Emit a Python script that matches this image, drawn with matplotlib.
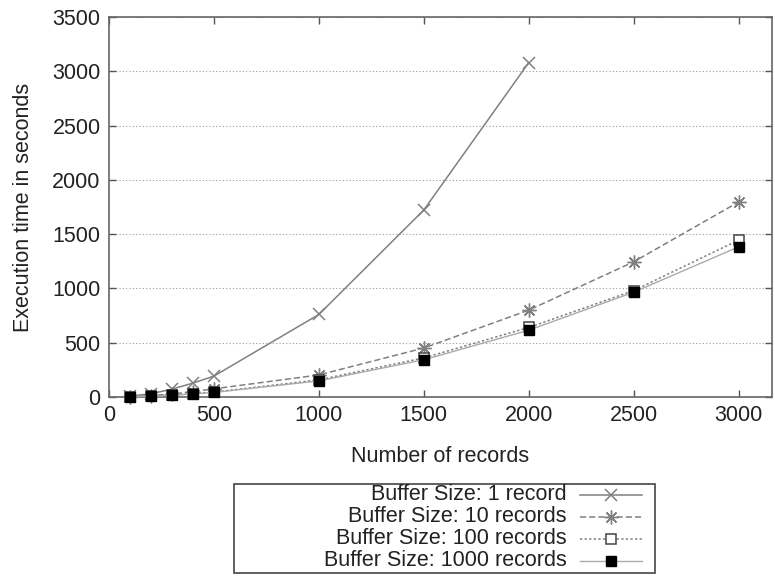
import matplotlib
matplotlib.use("Agg")
import matplotlib.pyplot as plt
from matplotlib.lines import Line2D
from matplotlib.patches import Rectangle

plt.rcParams['font.family'] = ['Liberation Sans', 'DejaVu Sans']

records_small = [100, 200, 300, 400, 500, 1000, 1500, 2000]
records_all = [100, 200, 300, 400, 500, 1000, 1500, 2000, 2500, 3000]

buf1 = [8, 30, 72, 128, 192, 760, 1722, 3080]
buf10 = [3, 12, 28, 50, 75, 203, 451, 800, 1245, 1796]
buf100 = [2, 8, 18, 30, 45, 158, 360, 640, 980, 1445]
buf1000 = [2, 7, 16, 28, 42, 148, 343, 615, 965, 1383]

labels = ["Buffer Size: 1 record", "Buffer Size: 10 records",
          "Buffer Size: 100 records", "Buffer Size: 1000 records"]
xticks = [0, 500, 1000, 1500, 2000, 2500, 3000]
yticks = [0, 500, 1000, 1500, 2000, 2500, 3000, 3500]

gray = '#808080'
FS = 15.5
fig = plt.figure(figsize=(7.75, 5.76), dpi=100)
ax = fig.add_axes([0.1406, 0.3108, 0.855, 0.6597])

styles = [
    dict(color=gray, ls='-', lw=1.1, marker='x', ms=9, mew=1.1, mec=gray, mfc='none'),
    dict(color=gray, ls=(0, (4, 2)), lw=1.1, marker=(8, 2, 0), ms=10, mew=1.0, mec=gray, mfc='none'),
    dict(color=gray, ls=(0, (1.5, 1.5)), lw=1.1, marker='s', ms=7.5, mew=1.1, mec='#444444', mfc='white'),
    dict(color='#aaaaaa', ls='-', lw=1.0, marker='s', ms=7.5, mew=1.0, mec='black', mfc='black'),
]
series = [(records_small, buf1), (records_all, buf10), (records_all, buf100), (records_all, buf1000)]
for (xs, ys), st in zip(series, styles):
    ax.plot(xs, ys, clip_on=False, zorder=3, **st)

ax.set_xlim(0, 3157)
ax.set_ylim(0, 3500)
ax.set_xticks(xticks)
ax.set_yticks(yticks)
ax.tick_params(direction='in', length=5, width=1, color='#555555', top=True, right=True,
               labelsize=FS, pad=6, labelcolor='#222222')
ax.yaxis.grid(True, ls=(0, (1, 2)), color='#999999', lw=0.8)
for s in ax.spines.values():
    s.set_color('#666666')
    s.set_linewidth(1.2)
ax.set_xlabel("Number of records", fontsize=FS, color='#222222', labelpad=14)
ax.set_ylabel("Execution time in seconds", fontsize=FS, color='#222222', labelpad=13)

# legend box drawn manually in figure pixel coordinates
W, H = 775, 576
fig.patches.append(Rectangle((234 / W, 1 - 573 / H), (655 - 234) / W, (573 - 484) / H,
                             transform=fig.transFigure, fill=False, ec='#444444', lw=1.2))
rows = [495, 517, 539, 561]
for lab, st, yy in zip(labels, styles, rows):
    yf = 1 - yy / H
    fig.text(567 / W, yf, lab, ha='right', va='center', fontsize=FS, color='#222222')
    fig.lines.append(Line2D([580 / W, 642 / W], [yf, yf], transform=fig.transFigure,
                            color=st['color'], ls=st['ls'], lw=st['lw']))
    fig.lines.append(Line2D([611 / W], [yf], transform=fig.transFigure, ls='none',
                            marker=st['marker'], ms=st['ms'], mew=st['mew'],
                            mec=st['mec'], mfc=st['mfc']))

fig.savefig("out.png", dpi=100)
